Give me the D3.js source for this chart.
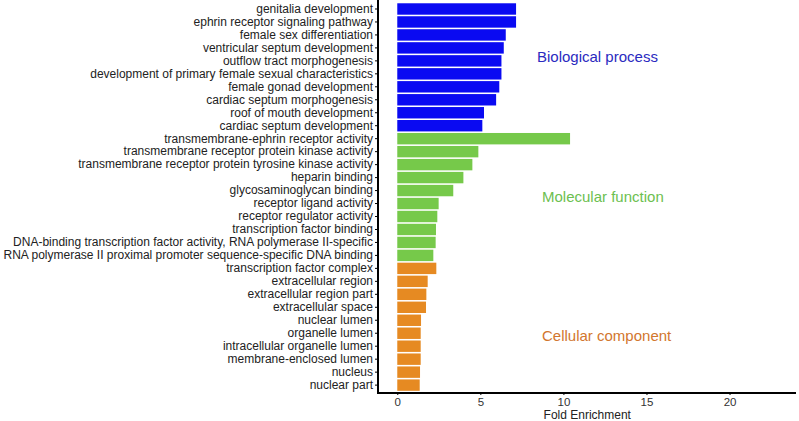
<!DOCTYPE html>
<html><head><meta charset="utf-8">
<script src="https://cdn.jsdelivr.net/npm/d3@7"></script>
<style>body{margin:0;background:#fff}text{font-family:"Liberation Sans",Arial,sans-serif}</style>
</head><body><svg id="c" width="799" height="421"></svg>
<script>
const categories = [
"genitalia development","ephrin receptor signaling pathway","female sex differentiation","ventricular septum development","outflow tract morphogenesis","development of primary female sexual characteristics","female gonad development","cardiac septum morphogenesis","roof of mouth development","cardiac septum development",
"transmembrane-ephrin receptor activity","transmembrane receptor protein kinase activity","transmembrane receptor protein tyrosine kinase activity","heparin binding","glycosaminoglycan binding","receptor ligand activity","receptor regulator activity","transcription factor binding","DNA-binding transcription factor activity, RNA polymerase II-specific","RNA polymerase II proximal promoter sequence-specific DNA binding",
"transcription factor complex","extracellular region","extracellular region part","extracellular space","nuclear lumen","organelle lumen","intracellular organelle lumen","membrane-enclosed lumen","nucleus","nuclear part"];
const values = [7.15,7.15,6.53,6.41,6.27,6.27,6.14,5.95,5.22,5.12,
10.4,4.88,4.52,3.98,3.37,2.49,2.41,2.33,2.31,2.17,
2.35,1.83,1.75,1.73,1.43,1.41,1.41,1.41,1.37,1.35];
const groups = ["Biological process","Molecular function","Cellular component"];
const groupOf = categories.map((c,i)=>groups[Math.floor(i/10)]);
const xTicks = [0,5,10,15,20];
const xTitle = "Fold Enrichment";

const barColor = d3.scaleOrdinal().domain(groups).range(["#0a0af2","#76c94a","#e68a22"]);
const textColor = d3.scaleOrdinal().domain(groups).range(["#2a2ac0","#6cc050","#d2762e"]);

const svg = d3.select("#c");
const x = d3.scaleLinear().domain([-1.16,24.0]).range([378,796]);
const y = d3.scaleBand().domain(categories).range([2.5,391.6]).paddingInner(0.12).paddingOuter(0.06);

svg.append("g").selectAll("rect").data(categories).join("rect")
  .attr("x", x(0)).attr("y", d=>y(d))
  .attr("width", (d,i)=>x(values[i])-x(0)).attr("height", y.bandwidth())
  .attr("fill", (d,i)=>barColor(groupOf[i]));

const yAxis = svg.append("g").attr("transform","translate(378,0)")
  .call(d3.axisLeft(y).tickSize(3).tickPadding(2).tickSizeOuter(0));
yAxis.select(".domain").attr("stroke","#000").attr("stroke-width",2).attr("d","M0,0V393");
yAxis.selectAll("text").attr("font-size",12).attr("fill","#222");

const xAxis = svg.append("g").attr("transform","translate(0,393)")
  .call(d3.axisBottom(x).tickValues(xTicks).tickSize(2).tickPadding(3).tickSizeOuter(0));
xAxis.select(".domain").attr("stroke","#000").attr("stroke-width",2).attr("d","M377,0H796");
xAxis.selectAll("text").attr("font-size",11.5).attr("fill","#333");

svg.append("text").attr("x", x(0)+ (587-397)).attr("y",418.5).attr("text-anchor","middle")
  .attr("font-size",12).attr("fill","#222").text(xTitle);

const labelPos = [[537,61.7],[542,202],[542,340.7]];
groups.forEach((g,i)=>{
  svg.append("text").attr("x",labelPos[i][0]).attr("y",labelPos[i][1])
    .attr("font-size",15).attr("fill",textColor(g)).text(g);
});
</script></body></html>
